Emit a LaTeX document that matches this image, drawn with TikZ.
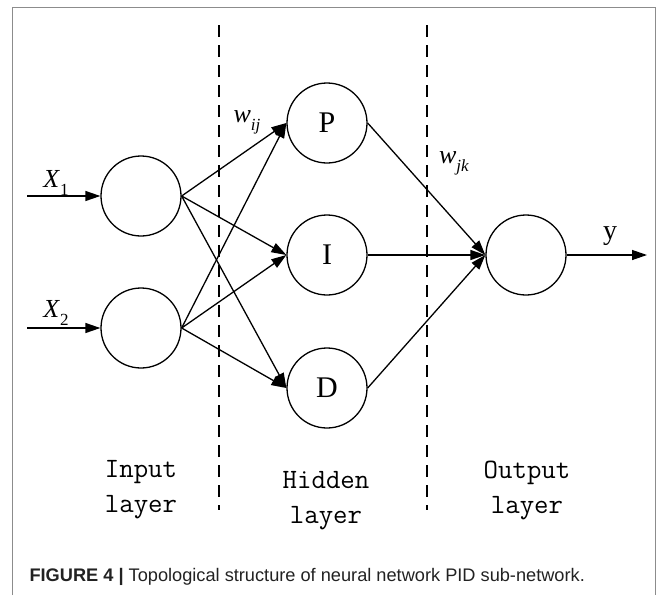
\documentclass[tikz,border=0pt]{standalone}
\usepackage{fontspec}
\setmainfont{Liberation Serif}
\newfontfamily\capfont{Liberation Sans}
\usepackage{tikz}
\usetikzlibrary{positioning, arrows.meta}
\definecolor{framegray}{HTML}{8C8C8C}
\definecolor{captext}{HTML}{222222}

\newcommand\lowidx[1]{\raisebox{-0.32em}{\fontsize{17}{17}\selectfont #1}}

\tikzset{
  neuron/.style={circle, draw, line width=1.3pt, minimum size=80pt, inner sep=0pt,
                 font=\fontsize{30}{30}\selectfont},
  wire/.style={line width=1.3pt, -{Triangle[length=15pt, width=10pt]}},
  divider/.style={line width=1.2pt, dash pattern=on 12pt off 8pt},
  layername/.style={align=center, font=\ttfamily\fontsize{28}{35}\selectfont},
}

\begin{document}
\begin{tikzpicture}[x=1pt, y=-1pt]
  \useasboundingbox (0,0) rectangle (664,595);
  \draw[framegray, line width=1pt] (12,595) -- (12,7) -- (655,7) -- (655,595);

  % layer borders
  \draw[divider] (219,25) -- (219,510);
  \draw[divider] (427,25) -- (427,510);

  % neurons
  \node[neuron] (in1) at (141,196) {};
  \node[neuron] (in2) at (141,328) {};
  \node[neuron] (P) at (327,123) {P};
  \node[neuron] (I) at (327,255) {I};
  \node[neuron] (D) at (327,388) {D};
  \node[neuron] (out) at (526,255) {};

  % inputs and output
  \coordinate (x1) at (27,196);
  \coordinate (x2) at (27,328);
  \coordinate (yend) at (647,255);
  \draw[wire] (x1) -- (in1);
  \draw[wire] (x2) -- (in2);
  \draw[wire] (out) -- (yend);
  \node[font=\fontsize{26}{26}\selectfont] (x1lab) at (56,183) {\textit{X}\lowidx{1}};
  \node[font=\fontsize{26}{26}\selectfont] (x2lab) at (56,313) {\textit{X}\lowidx{2}};
  \node[font=\fontsize{28}{28}\selectfont] (ylab) at (610,236) {y};

  % weights
  \foreach \s in {in1,in2}
    \foreach \t in {P,I,D}
      \draw[wire] (\s.east) -- (\t.west);
  \foreach \t in {P,I,D}
    \draw[wire] (\t.east) -- (out.west);
  \node[font=\fontsize{26}{26}\selectfont] (wij) at (247,122) {\textit{w}\lowidx{\textit{ij}}};
  \node[font=\fontsize{26}{26}\selectfont] (wjk) at (454,163) {\textit{w}\lowidx{\textit{jk}}};

  % layer names
  \node[layername] (inlab) at (141,490) {Input\\layer};
  \node[layername] (hidlab) at (326,501) {Hidden\\layer};
  \node[layername] (outlab) at (527,490) {Output\\layer};

  \node[anchor=west, text=captext, font=\capfont\fontsize{18.2}{18.2}\selectfont] (cap) at (26,577)
    {\textbf{FIGURE 4 |} Topological structure of neural network PID sub-network.};
\end{tikzpicture}
\end{document}
